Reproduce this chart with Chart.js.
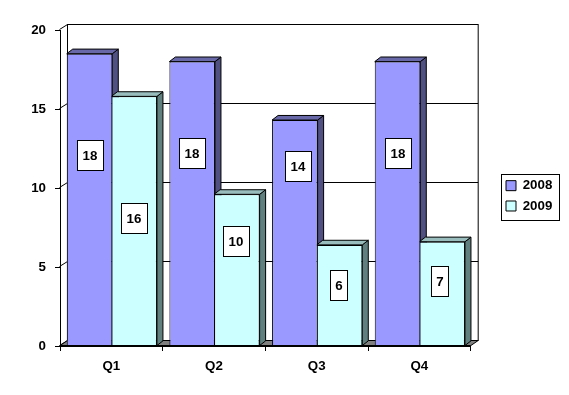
<!DOCTYPE html>
<html>
<head>
<meta charset="utf-8">
<title>Quarterly bars</title>
<script src="https://cdn.jsdelivr.net/npm/chart.js@4"></script>
<style>
  html, body { margin: 0; padding: 0; background: #fff; }
  canvas { display: block; }
</style>
</head>
<body>
<canvas id="myChart" width="569" height="395"></canvas>
<script>
var quarters = ["Q1", "Q2", "Q3", "Q4"];
var values2008 = [18.5, 18, 14.3, 18];
var values2009 = [15.8, 9.6, 6.4, 6.6];
// the printed labels are rounded by hand in the original, 18.5 shows as 18
var labels2008 = ["18", "18", "14", "18"];
var labels2009 = ["16", "10", "6", "7"];
var yTicks = [0, 5, 10, 15, 20];

var FAMILY = '"Liberation Sans", Arial, sans-serif';
var FONT = 'bold 13.33px ' + FAMILY;
// depth of the chart box and of the bars
var wallX = 8, wallY = 5, barX = 6, barY = 4.6;
// bars sit a little in front of the box
var barShift = 0.5;
// the label boxes are not centred on their bars, offsets from the bar centre
var labelShift = [
    [[0, -44.5], [0, -50.5], [3, -66.4], [0, -50.5]],
    [[0, -3.4], [-0.5, -29.3], [-1, -10.6], [-2, -13]]
];
var shades = [
    { side: "#505083", top: "#6868A8" },
    { side: "#608080", top: "#99BDBD" }
];

function poly(ctx, pts, fill) {
    ctx.beginPath();
    ctx.moveTo(pts[0][0], pts[0][1]);
    for (var i = 1; i < pts.length; i++) ctx.lineTo(pts[i][0], pts[i][1]);
    ctx.closePath();
    if (fill) {
        ctx.fillStyle = fill;
        ctx.fill();
    }
    ctx.stroke();
}

var box3d = {
    id: "box3d",
    afterLayout: function(chart) {
        // the legend keeps its room in the layout but sits further right
        var legend = chart.legend;
        var w = legend.width;
        legend.left = 499;
        legend.right = legend.left + w;
        legend.top = 172;
        legend.bottom = legend.top + 60;
    },
    beforeDraw: function(chart) {
        var ctx = chart.ctx;
        ctx.save();
        ctx.strokeStyle = "#000";
        ctx.lineWidth = 1;
        ctx.strokeRect(501.5, 174.5, 58, 46);
        ctx.restore();
    },
    beforeDatasetsDraw: function(chart) {
        // back wall, side wall lines and floor
        var ctx = chart.ctx, a = chart.chartArea, y = chart.scales.y;
        ctx.save();
        ctx.strokeStyle = "#000";
        ctx.lineWidth = 1;
        ctx.strokeRect(a.left + wallX - 0.5, a.top - wallY - 0.5, a.right - a.left, a.bottom - a.top);
        yTicks.forEach(function(t) {
            var py = Math.round(y.getPixelForValue(t)) - 0.5;
            ctx.beginPath();
            ctx.moveTo(a.left - 0.5, py);
            ctx.lineTo(a.left + wallX - 0.5, py - wallY);
            if (t > 0 && t < 20) ctx.lineTo(a.right + wallX - 0.5, py - wallY);
            ctx.stroke();
        });
        poly(ctx, [
            [a.left - 0.5, a.bottom],
            [a.left + wallX - 0.5, a.bottom - wallY - 0.5],
            [a.right + wallX - 0.5, a.bottom - wallY - 0.5],
            [a.right - 0.5, a.bottom]
        ], "#808080");

        // sides and tops go under every front face, 2008 first
        ctx.translate(barShift, 0);
        shades.forEach(function(shade, ds) {
            chart.getDatasetMeta(ds).data.forEach(function(bar) {
                var p = bar.getProps(["x", "y", "base", "width"], true);
                var l = p.x - p.width / 2, r = p.x + p.width / 2;
                poly(ctx, [[r, p.y], [r + barX, p.y - barY], [r + barX, p.base - barY], [r, p.base]], shade.side);
                poly(ctx, [[l, p.y], [l + barX, p.y - barY], [r + barX, p.y - barY], [r, p.y]], shade.top);
            });
        });
        ctx.restore();
    },
    beforeDatasetDraw: function(chart) {
        chart.ctx.save();
        chart.ctx.translate(barShift, 0);
    },
    afterDatasetDraw: function(chart) {
        chart.ctx.restore();
    },
    afterDatasetsDraw: function(chart) {
        var ctx = chart.ctx, a = chart.chartArea;
        ctx.save();
        ctx.strokeStyle = "#000";
        ctx.lineWidth = 2;
        ctx.beginPath();
        ctx.moveTo(a.left, a.bottom);
        ctx.lineTo(a.right, a.bottom);
        ctx.stroke();

        ctx.lineWidth = 1;
        ctx.font = FONT;
        ctx.textAlign = "center";
        ctx.textBaseline = "middle";
        [labels2008, labels2009].forEach(function(texts, ds) {
            chart.getDatasetMeta(ds).data.forEach(function(bar, i) {
                var p = bar.getProps(["x", "y", "base"], true);
                var cx = Math.round(p.x + barShift + labelShift[ds][i][0]);
                var cy = Math.round((p.y + p.base) / 2 + labelShift[ds][i][1]);
                var w = texts[i].length > 1 ? 26 : 17;
                var left = Math.floor(cx - w / 2);
                ctx.fillStyle = "#fff";
                ctx.fillRect(left, cy - 15, w, 30);
                ctx.strokeRect(left + 0.5, cy - 14.5, w, 30);
                ctx.fillStyle = "#000";
                ctx.fillText(texts[i], cx, cy + 1);
            });
        });
        ctx.restore();
    }
};

var ctx = document.getElementById("myChart");
var chart = new Chart(ctx, {
    type: "bar",
    plugins: [box3d],
    data: {
        labels: quarters,
        datasets: [{
            label: "2008",
            data: values2008,
            backgroundColor: "#9999FF",
            borderColor: "#000",
            borderWidth: 1
        }, {
            label: "2009",
            data: values2009,
            backgroundColor: "#CCFFFF",
            borderColor: "#000",
            borderWidth: 1
        }]
    },
    options: {
        responsive: false,
        animation: false,
        layout: { padding: { top: 30, left: 0, right: 35, bottom: 0 } },
        datasets: { bar: { barPercentage: 1.02, categoryPercentage: 0.87 } },
        plugins: {
            tooltip: { enabled: false },
            legend: {
                position: "right",
                align: "start",
                labels: {
                    boxWidth: 10,
                    boxHeight: 10,
                    padding: 7,
                    color: "#000",
                    font: { family: FAMILY, size: 13.33, weight: "bold" }
                }
            }
        },
        scales: {
            x: {
                afterFit: function(scale) { scale.height = 49; },
                border: { color: "#000" },
                grid: { color: "#000", drawOnChartArea: false, tickLength: 5 },
                ticks: {
                    color: "#000",
                    padding: 7,
                    maxRotation: 0,
                    font: { family: FAMILY, size: 13.33, weight: "bold" }
                }
            },
            y: {
                min: 0,
                max: 20,
                afterFit: function(scale) { scale.width = 60; },
                afterBuildTicks: function(scale) {
                    scale.ticks = yTicks.map(function(t) { return { value: t }; });
                },
                border: { color: "#000" },
                grid: { color: "#000", drawOnChartArea: false, tickLength: 5 },
                ticks: {
                    color: "#000",
                    padding: 9,
                    font: { family: FAMILY, size: 13.33, weight: "bold" }
                }
            }
        }
    }
});
</script>
</body>
</html>
